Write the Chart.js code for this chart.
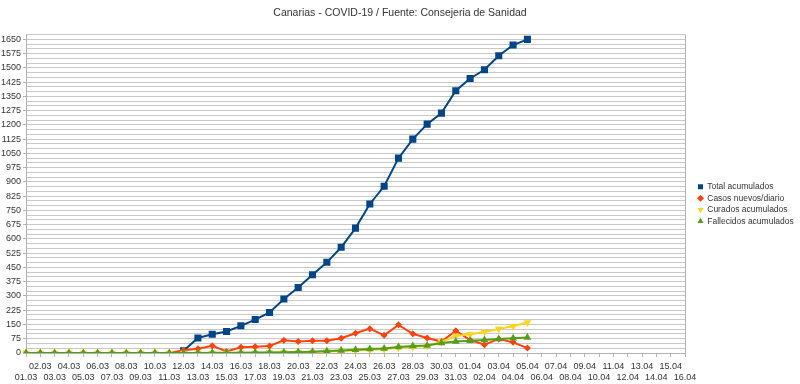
<!DOCTYPE html>
<html><head><meta charset="utf-8">
<script src="https://cdn.jsdelivr.net/npm/chart.js@4/dist/chart.umd.min.js"></script>
<style>html,body{margin:0;padding:0;background:#fff}#wrap{width:800px;height:384px;position:relative}</style>
</head><body><div id="wrap"><canvas id="c" width="800" height="384"></canvas></div>
<script>
const chartTitle = "Canarias - COVID-19 / Fuente: Consejeria de Sanidad";
const categories = ["01.03","02.03","03.03","04.03","05.03","06.03","07.03","08.03","09.03","10.03",
  "11.03","12.03","13.03","14.03","15.03","16.03","17.03","18.03","19.03","20.03",
  "21.03","22.03","23.03","24.03","25.03","26.03","27.03","28.03","29.03","30.03","31.03",
  "01.04","02.04","03.04","04.04","05.04","06.04","07.04","08.04","09.04","10.04",
  "11.04","12.04","13.04","14.04","15.04","16.04"];
const seriesNames = ["Total acumulados","Casos nuevos/diario","Curados acumulados","Fallecidos acumulados"];
const totalAcumulados = [null,null,null,null,null,null,null,null,null,null,null,
  12,79,99,113,143,176,213,284,345,412,477,556,657,784,877,1025,1125,1204,1262,1380,1444,1490,1564,1620,1650];
const casosNuevos = [0,0,0,0,0,0,0,0,0,0,0,
  15,22,38,8,30,33,37,67,60,65,65,78,104,128,93,148,101,79,60,117,68,44,74,56,26];
const curadosAcumulados = [0,0,0,0,0,0,0,0,0,0,0,0,0,0,0,0,0,
  2,2,4,4,7,10,13,17,20,27,32,37,58,90,99,111,127,141,160];
const fallecidosAcumulados = [0,0,0,0,0,0,0,0,0,0,0,0,0,
  1,1,1,2,3,4,5,7,10,13,17,21,24,32,37,40,53,60,65,69,74,78,82];
const yMax = 1675, yStep = 25, yLabelStep = 75;

const FONT = "'Liberation Sans', Arial, sans-serif";
const colors = ["#004586","#ff420e","#ffd320","#579d1c"];

const fixPlugin = {
  id: 'fix',
  afterInit(chart) {
    const lg = chart.legend;
    const orig = lg.fit.bind(lg);
    lg.fit = function() { orig(); this.width = 115; };
  },
  afterLayout(chart) {
    const lg = chart.legend;
    lg.top += 12; lg.bottom += 12;
    lg.left += 10; lg.right += 10;
  }
};

new Chart(document.getElementById('c'), {
  type: 'line',
  data: {
    labels: categories,
    datasets: [
      {label: seriesNames[0], data: totalAcumulados, borderColor: colors[0], backgroundColor: colors[0],
       pointStyle: 'rect', pointRadius: 5, order: 3},
      {label: seriesNames[1], data: casosNuevos, borderColor: colors[1], backgroundColor: colors[1],
       pointStyle: 'rectRot', pointRadius: 3.5, order: 2},
      {label: seriesNames[2], data: curadosAcumulados, borderColor: colors[2], backgroundColor: colors[2],
       pointStyle: 'triangle', pointRotation: 180, pointRadius: 4.5, order: 1},
      {label: seriesNames[3], data: fallecidosAcumulados, borderColor: colors[3], backgroundColor: colors[3],
       pointStyle: 'triangle', pointRadius: 4.5, order: 0}
    ]
  },
  options: {
    responsive: false,
    animation: false,
    devicePixelRatio: 1,
    layout: {padding: {left: 0, right: 0, top: 0, bottom: 0}},
    elements: {line: {borderWidth: 2, tension: 0}, point: {borderWidth: 0, hoverRadius: 5}},
    plugins: {
      tooltip: {enabled: false},
      title: {display: true, text: chartTitle, color: '#333', font: {family: FONT, size: 10.5, weight: 'normal'},
              padding: {top: 7, bottom: 15}},
      legend: {position: 'right', align: 'center',
        labels: {usePointStyle: true, boxWidth: 5, boxHeight: 5, padding: 3, color: '#333',
                 font: {family: FONT, size: 8.5},
                 sort: (a, b) => a.datasetIndex - b.datasetIndex}}
    },
    scales: {
      x: {
        type: 'category',
        offset: false,
        afterFit: (s) => { s.height = 31; },
        grid: {drawOnChartArea: true, tickLength: 4,
               color: (ctx) => ctx.index === categories.length - 1 ? '#b3b3b3' : 'rgba(0,0,0,0)',
               tickColor: '#b3b3b3'},
        border: {color: '#b3b3b3'},
        ticks: {autoSkip: false, maxRotation: 0, minRotation: 0, padding: 4, color: '#333',
                font: {family: FONT, size: 9, lineHeight: 1.25},
                callback: function(v, i) { const l = categories[i]; return i % 2 === 0 ? ['', l] : [l, '']; }}
      },
      y: {
        min: 0, max: yMax,
        afterFit: (s) => { s.width = 26; },
        grid: {color: '#c8c8c8', tickLength: 3, tickColor: (ctx) => (ctx.tick && ctx.tick.value % yLabelStep === 0) ? '#b3b3b3' : 'rgba(0,0,0,0)'},
        border: {color: '#b3b3b3'},
        ticks: {stepSize: yStep, autoSkip: false, padding: 2, color: '#333',
                font: {family: FONT, size: 9},
                callback: (v) => v % yLabelStep === 0 ? String(v) : ''}
      }
    }
  },
  plugins: [fixPlugin]
});
</script>
</body></html>
